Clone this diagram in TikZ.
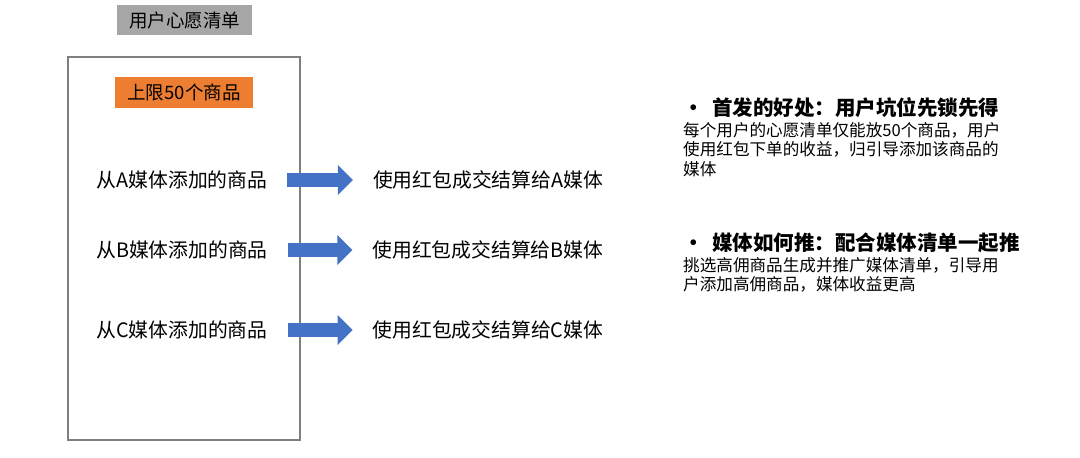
\documentclass[tikz,border=0pt]{standalone}
\usepackage{fontspec}
\setmainfont{Noto Sans CJK SC}
\usetikzlibrary{arrows.meta,positioning}
\definecolor{Frame}{HTML}{7F7F7F}
\definecolor{Title}{HTML}{A6A6A6}
\definecolor{Limit}{HTML}{ED7D31}
\definecolor{Push}{HTML}{4472C4}
\tikzset{
 tag/.style={inner sep=0pt,font=\fontsize{18.5}{20}\selectfont,minimum height=30pt},
 item/.style={inner sep=0pt,font=\fontsize{19.8}{22}\selectfont},
 push/.style={-{Triangle[length=15pt,width=29pt]},line width=14pt,draw=Push},
 point/.style={inner sep=0pt,anchor=west,font=\fontsize{20.5}{22}\selectfont\bfseries},
 note/.style={inner sep=0pt,anchor=north west,align=left,font=\fontsize{16.6}{19.5}\selectfont}
}
\begin{document}
\begin{tikzpicture}[x=1pt,y=-1pt]
\useasboundingbox[fill=white] (0,0) rectangle (1080,458);
% wish list
\node[tag,fill=Title,minimum width=135pt] (wish) at (184.5,20) {用户心愿清单};
\node[draw=Frame,line width=1.6pt,minimum width=232pt,minimum height=383pt] (list) at (184,248.5) {};
\node[tag,fill=Limit,minimum width=138pt,minimum height=31pt] (cap) at (184,92.5) {上限50个商品};
% items and payout
\node[item] (srcA) at (182,180) {从A媒体添加的商品};
\node[item] (srcB) at (182,250) {从B媒体添加的商品};
\node[item] (srcC) at (182,330) {从C媒体添加的商品};
\node[item] (dstA) at (488,180) {使用红包成交结算给A媒体};
\node[item] (dstB) at (488,250) {使用红包成交结算给B媒体};
\node[item] (dstC) at (488,330) {使用红包成交结算给C媒体};
\draw[push] ([xshift=20pt]srcA.east)--([xshift=-20pt]dstA.west);
\draw[push] ([xshift=20pt]srcB.east)--([xshift=-20pt]dstB.west);
\draw[push] ([xshift=20pt]srcC.east)--([xshift=-20pt]dstC.west);
% notes
\node[point] (first) at (683,108) {\makebox[29pt][l]{•}首发的好处：用户坑位先锁先得};
\node[note] (firstTxt) at (683,122) {每个用户的心愿清单仅能放50个商品，用户\\使用红包下单的收益，归引导添加该商品的\\媒体};
\node[point] (how) at (683,243) {\makebox[29pt][l]{•}媒体如何推：配合媒体清单一起推};
\node[note] (howTxt) at (683,257) {挑选高佣商品生成并推广媒体清单，引导用\\户添加高佣商品，媒体收益更高};
\end{tikzpicture}
\end{document}
